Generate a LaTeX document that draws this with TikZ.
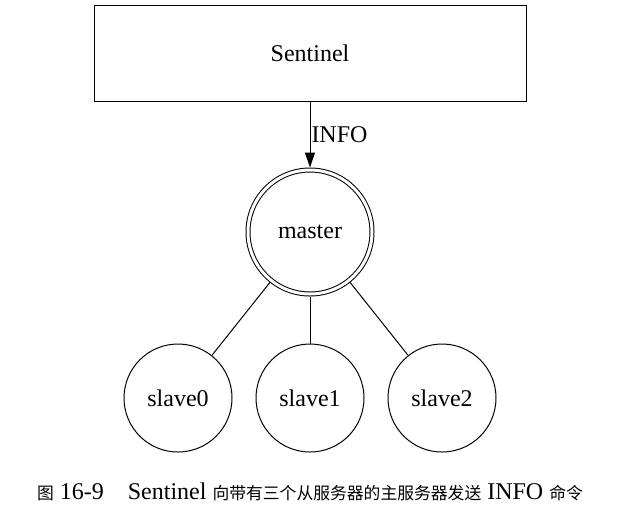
\documentclass[tikz,border=0pt]{standalone}
\usepackage{fontspec}
\setmainfont{Liberation Serif}
\newfontfamily\cjk[Scale=0.7]{Noto Sans CJK SC}
\usetikzlibrary{arrows.meta}

\begin{document}
\begin{tikzpicture}[x=0.5pt,y=-0.5pt,
    every node/.style={font=\fontsize{12}{14}\selectfont},
    box/.style={draw,line width=0.5pt,minimum width=216pt,minimum height=48pt},
    srv/.style={draw,circle,line width=0.5pt,minimum size=54pt,inner sep=0pt},
    mastersrv/.style={draw,circle,double,double distance=1.5pt,line width=0.5pt,
        minimum size=62pt,inner sep=0pt,outer sep=1.25pt}]
    \useasboundingbox (0,0) rectangle (620,510);

    \node[box] (sentinel) at (310,53) {Sentinel};
    \node[mastersrv] (master) at (310,232) {master};
    \node[srv] (slave0) at (178,398) {slave0};
    \node[srv] (slave1) at (310,398) {slave1};
    \node[srv] (slave2) at (442,398) {slave2};

    \draw[line width=0.5pt,-{Triangle[length=7.5pt,width=5pt]}] (sentinel) -- node[right,inner sep=0.5pt] {INFO} (master);
    \draw[line width=0.5pt] (master) -- (slave0);
    \draw[line width=0.5pt] (master) -- (slave1);
    \draw[line width=0.5pt] (master) -- (slave2);

    \node (caption) at (310,492) {{\cjk 图} 16-9\quad Sentinel {\cjk 向带有三个从服务器的主服务器发送} INFO {\cjk 命令}};
\end{tikzpicture}
\end{document}
